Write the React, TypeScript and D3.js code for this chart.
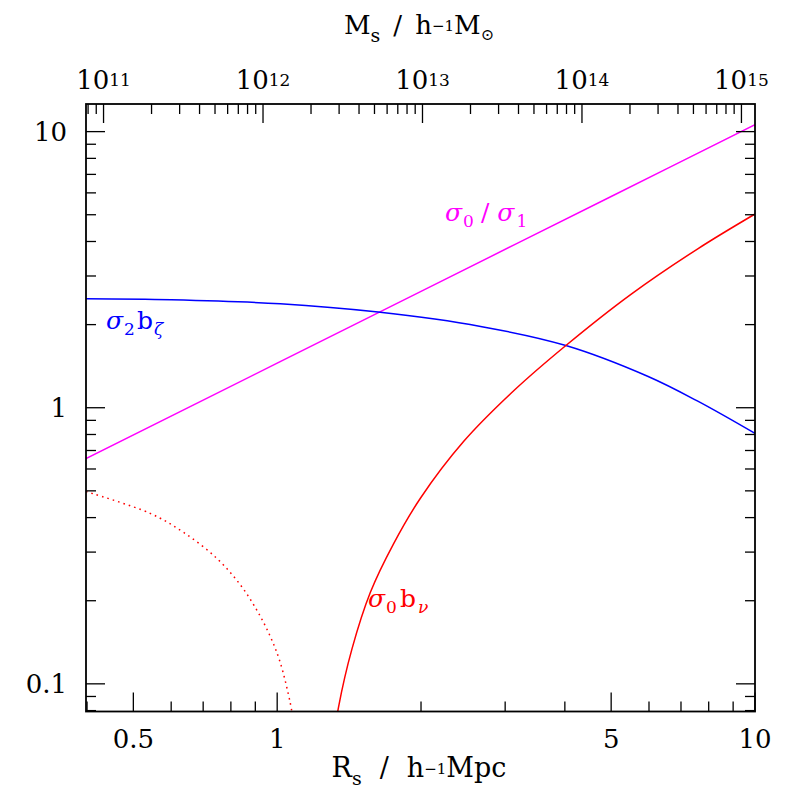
import React from "react";
import * as d3 from "d3";

// ---- data ----
const magentaR = [0.398, 1, 2, 5, 10];
const magentaV = [0.654, 1.45, 2.64, 5.82, 10.6];

const blueR = [0.398, 0.6, 1.015, 1.626, 2.665, 4.02, 5.96, 7.59, 10];
const blueV = [2.48, 2.46, 2.38, 2.22, 1.97, 1.68, 1.3, 1.056, 0.807];

const redR = [1.325, 1.344, 1.434, 1.567, 1.753, 1.994, 2.46, 3.13, 4.02, 5.5, 7.59, 10];
const redV = [0.07, 0.0824, 0.1338, 0.2145, 0.322, 0.47, 0.757, 1.154, 1.68, 2.574, 3.763, 5.03];

const redDotR = [0.398, 0.542, 0.636, 0.747, 0.837, 0.907, 0.967, 1.0146, 1.065, 1.08];
const redDotV = [0.497, 0.4145, 0.3542, 0.2851, 0.2285, 0.1846, 0.1486, 0.1196, 0.0853, 0.0741];

const xDomain = [0.398, 10];
const yDomain = [0.0794, 12.59];
const massDomain = [Math.pow(10, 10.89), Math.pow(10, 15.085)];

const xMajor = [0.5, 1, 5, 10];
const xMajorLabels = ["0.5", "1", "5", "10"];
const yMajor = [0.1, 1, 10];
const yMajorLabels = ["0.1", "1", "10"];
const mMajorExp = [11, 12, 13, 14, 15];

// ---- layout ----
const L = 86, R = 755, T = 104, B = 711.5;
const MAJ = 19, MIN = 10;
const FONT = "'DejaVu Serif', serif";

export default function App() {
  const x = d3.scaleLog().domain(xDomain).range([L, R]);
  const y = d3.scaleLog().domain(yDomain).range([B, T]);
  const m = d3.scaleLog().domain(massDomain).range([L, R]);

  const line = d3
    .line<[number, number]>()
    .x((d) => x(d[0]))
    .y((d) => y(d[1]))
    .curve(d3.curveCatmullRom.alpha(0.5));

  const zip = (a: number[], b: number[]) => a.map((v, i) => [v, b[i]] as [number, number]);

  const inRange = (v: number, dom: number[]) => v >= dom[0] - 1e-9 && v <= dom[1] + 1e-9;

  const xMinor: number[] = [];
  const yMinor: number[] = [];
  for (const dec of [0.1, 1, 10]) {
    for (let k = 1; k <= 9; k++) {
      const v = k * dec;
      if (inRange(v, xDomain) && !xMajor.some((t) => Math.abs(t - v) < 1e-9)) xMinor.push(v);
    }
  }
  for (const dec of [0.01, 0.1, 1, 10]) {
    for (let k = 2; k <= 9; k++) {
      const v = k * dec;
      if (inRange(v, yDomain)) yMinor.push(v);
    }
  }
  const mMinor: number[] = [];
  for (let e = 10; e <= 15; e++) {
    for (let k = 2; k <= 9; k++) {
      const v = k * Math.pow(10, e);
      if (inRange(v, massDomain)) mMinor.push(v);
    }
  }

  const tickW = 1.3;

  return (
    <svg width={797} height={797} style={{ position: "absolute", left: 0, top: 0, background: "#fff" }}>
      <defs>
        <clipPath id="plotclip">
          <rect x={L} y={T} width={R - L} height={B - T} />
        </clipPath>
      </defs>
      <rect x={0} y={0} width={797} height={797} fill="#fff" />

      {/* curves */}
      <g clipPath="url(#plotclip)" fill="none" strokeWidth={1.5}>
        <path d={line(zip(magentaR, magentaV)) || ""} stroke="#ff00ff" />
        <path d={line(zip(blueR, blueV)) || ""} stroke="#0000ff" />
        <path d={line(zip(redR, redV)) || ""} stroke="#ff0000" />
        <path d={line(zip(redDotR, redDotV)) || ""} stroke="#ff0000" strokeDasharray="1.6 4" />
      </g>

      {/* ticks */}
      <g stroke="#000" strokeWidth={tickW}>
        {xMajor.map((t) => (
          <line key={"xM" + t} x1={x(t)} x2={x(t)} y1={B} y2={B - MAJ} />
        ))}
        {xMinor.map((t) => (
          <line key={"xm" + t} x1={x(t)} x2={x(t)} y1={B} y2={B - MIN} />
        ))}
        {mMajorExp.map((e) => (
          <line key={"mM" + e} x1={m(Math.pow(10, e))} x2={m(Math.pow(10, e))} y1={T} y2={T + MAJ} />
        ))}
        {mMinor.map((t) => (
          <line key={"mm" + t} x1={m(t)} x2={m(t)} y1={T} y2={T + MIN} />
        ))}
        {yMajor.map((t) => (
          <g key={"yM" + t}>
            <line x1={L} x2={L + MAJ} y1={y(t)} y2={y(t)} />
            <line x1={R} x2={R - MAJ} y1={y(t)} y2={y(t)} />
          </g>
        ))}
        {yMinor.map((t) => (
          <g key={"ym" + t}>
            <line x1={L} x2={L + MIN} y1={y(t)} y2={y(t)} />
            <line x1={R} x2={R - MIN} y1={y(t)} y2={y(t)} />
          </g>
        ))}
      </g>

      {/* frame */}
      <rect x={L} y={T} width={R - L} height={B - T} fill="none" stroke="#000" strokeWidth={1.8} />

      {/* tick labels */}
      <g fontFamily={FONT} fontSize={26} fill="#000">
        {xMajor.map((t, i) => (
          <text key={"xl" + t} x={x(t)} y={748} textAnchor="middle">
            {xMajorLabels[i]}
          </text>
        ))}
        {yMajor.map((t, i) => (
          <text key={"yl" + t} x={67} y={y(t) + 9.5} textAnchor="end">
            {yMajorLabels[i]}
          </text>
        ))}
        {mMajorExp.map((e) => (
          <text key={"ml" + e} x={m(Math.pow(10, e))} y={88.5} textAnchor="middle">
            10
            <tspan fontSize={17} dy={-3}>
              {String(e)}
            </tspan>
          </text>
        ))}
      </g>

      {/* axis titles */}
      <g fontFamily={FONT} fill="#000">
        <text x={419} y={34} textAnchor="middle" fontSize={26}>
          M
          <tspan fontSize={19} dy={8}>s</tspan>
          <tspan dy={-8} dx={13}>/</tspan>
          <tspan dx={13}>h</tspan>
          <tspan fontSize={15} dy={-3}>{"−1"}</tspan>
          <tspan dy={3}>M</tspan>
          <tspan fontSize={16} dy={6}>{"⊙"}</tspan>
        </text>
        <text x={419} y={777} textAnchor="middle" fontSize={27}>
          R
          <tspan fontSize={19} dy={8}>s</tspan>
          <tspan dy={-8} dx={18}>/</tspan>
          <tspan dx={18}>h</tspan>
          <tspan fontSize={15} dy={-3}>{"−1"}</tspan>
          <tspan dy={3}>Mpc</tspan>
        </text>
      </g>

      {/* curve labels */}
      <g fontFamily={FONT} fontSize={25}>
        <text x={445} y={221} fill="#ff00ff">
          <tspan fontStyle="italic">σ</tspan>
          <tspan fontSize={17} dy={6} dx={1}>0</tspan>
          <tspan dy={-6} dx={7}>/</tspan>
          <tspan fontStyle="italic" dx={8}>σ</tspan>
          <tspan fontSize={17} dy={6} dx={2}>1</tspan>
        </text>
        <text x={106} y={329} fill="#0000ff">
          <tspan fontStyle="italic">σ</tspan>
          <tspan fontSize={17} dy={6} dx={1}>2</tspan>
          <tspan dy={-6} dx={2}>b</tspan>
          <tspan fontSize={17} fontStyle="italic" dy={6} dx={1}>ζ</tspan>
        </text>
        <text x={368} y={607} fill="#ff0000">
          <tspan fontStyle="italic">σ</tspan>
          <tspan fontSize={17} dy={6} dx={1}>0</tspan>
          <tspan dy={-6} dx={3}>b</tspan>
          <tspan fontSize={17} fontStyle="italic" dy={6} dx={2}>ν</tspan>
        </text>
      </g>
    </svg>
  );
}
